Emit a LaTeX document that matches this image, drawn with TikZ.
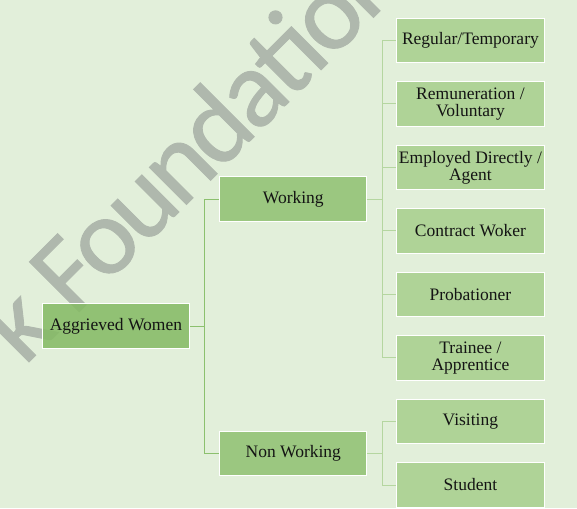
\documentclass[tikz,border=0pt]{standalone}
\usepackage{fontspec}
\setmainfont{Liberation Serif}
\newfontfamily\wmfont[LetterSpace=-4, FakeBold=0.8]{Carlito}
\definecolor{bgc}{HTML}{E2EFDA}
\definecolor{wmc}{HTML}{AFB8AD}
\definecolor{lvA}{HTML}{86BB66}
\definecolor{lvB}{HTML}{92C274}
\definecolor{lvC}{HTML}{A9D08E}
\definecolor{lineA}{HTML}{8CC06E}
\definecolor{lineB}{HTML}{B5D6A0}
\begin{document}
\begin{tikzpicture}[x=1pt,y=1pt,
  box/.style={draw=white, line width=0.9pt, minimum width=147pt, minimum height=44.5pt,
    inner sep=0pt, align=center, font=\fontsize{17.5}{17}\selectfont, text=black!92,
    fill opacity=0.88, text opacity=1},
  boxA/.style={box, fill=lvA},
  boxB/.style={box, fill=lvB},
  boxC/.style={box, fill=lvC, minimum width=148pt},
  wm/.style={font=\wmfont\fontsize{110}{110}\selectfont, text=wmc, inner sep=0pt},
  connA/.style={draw=lineA, line width=1pt},
  connB/.style={draw=lineB, line width=1pt}]
\useasboundingbox (0,0) rectangle (577,508);
\clip (0,0) rectangle (577,508);
\fill[bgc] (0,0) rectangle (577,508);
\node[wm, rotate=45, anchor=base west] (wm) at (24,141) {k Foundation};

\node[boxA] (agg) at (115.9,181.8) {Aggrieved Women};
\node[boxB] (work) at (293.3,308.8) {Working};
\node[boxB] (nonw) at (293.3,54.75) {Non Working};

\node[boxC] (c1) at (470.4,467.5) {Regular/Temporary};
\node[boxC] (c2) at (470.4,404) {Remuneration /\\Voluntary};
\node[boxC] (c3) at (470.4,340.5) {Employed Directly /\\Agent};
\node[boxC] (c4) at (470.4,277) {Contract Woker};
\node[boxC] (c5) at (470.4,213.5) {Probationer};
\node[boxC] (c6) at (470.4,150) {Trainee /\\Apprentice};
\node[boxC] (c7) at (470.4,86.5) {Visiting};
\node[boxC] (c8) at (470.4,23) {Student};

\coordinate (busA) at ([xshift=14.8pt]agg.east);
\draw[connA] (agg.east) -- (busA);
\draw[connA] (busA) |- (work.west);
\draw[connA] (busA) |- (nonw.west);

\coordinate (busB) at ([xshift=14.8pt]work.east);
\draw[connB] (work.east) -- (busB);
\foreach \n in {c1,c2,c3,c4,c5,c6} \draw[connB] (busB) |- (\n.west);

\coordinate (busC) at ([xshift=14.8pt]nonw.east);
\draw[connB] (nonw.east) -- (busC);
\foreach \n in {c7,c8} \draw[connB] (busC) |- (\n.west);
\end{tikzpicture}
\end{document}
